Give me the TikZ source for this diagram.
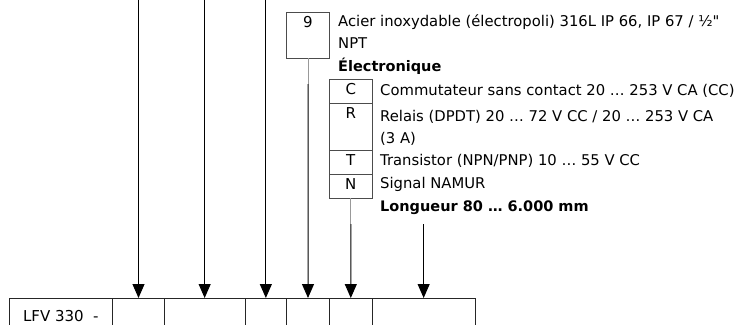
\documentclass[tikz,border=0pt]{standalone}
\usepackage{fontspec}
\setmainfont{DejaVu Sans}[Ligatures=TeXOff]
\usetikzlibrary{arrows.meta, positioning}

\begin{document}
\begin{tikzpicture}[
    x=1pt, y=-1pt,
    cell/.style={rectangle, draw=black!85, line width=0.8pt, inner sep=0pt, outer sep=0pt,
        minimum height=36pt, font=\fontsize{15}{18}\selectfont, text=black},
    code/.style={rectangle, draw=black!70, line width=0.7pt, inner sep=0pt, outer sep=0pt,
        anchor=north west, fill=none},
    letter/.style={rectangle, draw=none, inner sep=0pt, anchor=north, yshift=-5pt,
        text height=10.5pt, text depth=0pt, text=black, font=\fontsize{15}{18}\selectfont},
    desc/.style={rectangle, draw=none, fill=none, inner sep=0pt, anchor=base west,
        align=left, text=black, font=\fontsize{14.8}{21.5}\selectfont},
    title/.style={desc, font=\fontsize{14.5}{21.5}\selectfont\bfseries},
    pointer/.style={draw=black, line width=1pt, -{Triangle[width=12pt, length=14pt]}},
    lead/.style={draw=black!40, line width=0.7pt}
]
\useasboundingbox (0,0) rectangle (752,324);

% order code
\node (Cell00) [cell, minimum width=103.7pt, anchor=north west] at (9,298) {LFV 330\ \ -};
\node (Cell01) [cell, minimum width=51.6pt, right=0pt of Cell00] {};
\node (Cell02) [cell, minimum width=80.7pt, right=0pt of Cell01] {};
\node (Cell03) [cell, minimum width=41.7pt, right=0pt of Cell02] {};
\node (Cell04) [cell, minimum width=42.6pt, right=0pt of Cell03] {};
\node (Cell05) [cell, minimum width=43pt, right=0pt of Cell04] {};
\node (Cell06) [cell, minimum width=102.7pt, right=0pt of Cell05] {};

% material
\node (Box09) [code, minimum width=42.6pt, minimum height=46pt,
    label={[letter]north:9}] at (286.7,12) {};
\node (Txt09) [desc] at (338,48.5) {Acier inoxydable (électropoli) 316L IP 66, IP 67 / ½"\\NPT};

% electronics
\node (Head01) [title] at (338,71) {Électronique};
\node (CodeC) [code, minimum width=43pt, minimum height=24pt,
    label={[letter]north:C}] at (329.3,79) {};
\node (CodeR) [code, minimum width=43pt, minimum height=47pt,
    label={[letter]north:R}] at (CodeC.south west) {};
\node (CodeT) [code, minimum width=43pt, minimum height=24pt,
    label={[letter]north:T}] at (CodeR.south west) {};
\node (CodeN) [code, minimum width=43pt, minimum height=24pt,
    label={[letter]north:N}] at (CodeT.south west) {};
\node (TxtC) [desc] at (380,95) {Commutateur sans contact 20 … 253 V CA (CC)};
\node (TxtR) [desc] at (380,143) {Relais (DPDT) 20 … 72 V CC / 20 … 253 V CA\\(3 A)};
\node (TxtT) [desc] at (380,165) {Transistor (NPN/PNP) 10 … 55 V CC};
\node (TxtN) [desc] at (380,188) {Signal NAMUR};

% length
\node (Head02) [title] at (380,211) {Longueur 80 … 6.000 mm};

\coordinate (Top01) at (Cell01.north |- 0,-2);
\coordinate (Top02) at (Cell02.north |- 0,-2);
\coordinate (Top03) at (Cell03.north |- 0,-2);
\coordinate (Bend04) at (Box09.south |- 0,84);
\coordinate (Bend05) at (CodeN.south |- 0,224);
\coordinate (Top06) at (Cell06.north |- 0,224);

\draw [pointer] (Top01) -- (Cell01.north);
\draw [pointer] (Top02) -- (Cell02.north);
\draw [pointer] (Top03) -- (Cell03.north);
\draw [lead] (Box09.south) -- (Bend04);
\draw [pointer] (Bend04) -- (Cell04.north);
\draw [lead] (CodeN.south) -- (Bend05);
\draw [pointer] (Bend05) -- (Cell05.north);
\draw [pointer] (Top06) -- (Cell06.north);
\end{tikzpicture}
\end{document}
